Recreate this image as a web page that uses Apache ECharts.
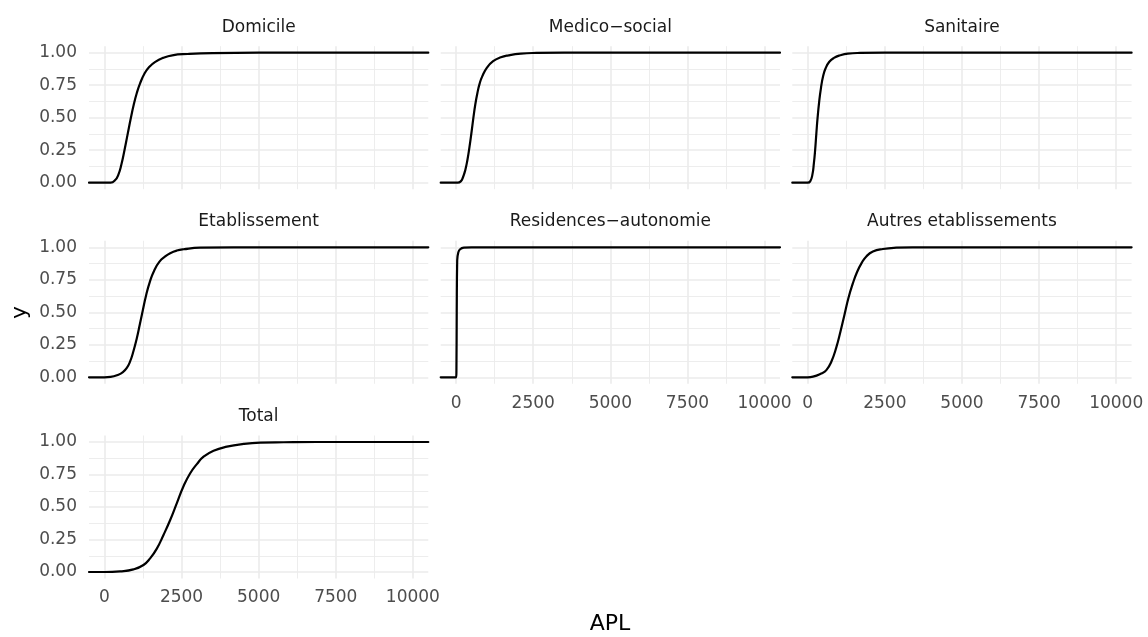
<!DOCTYPE html>
<html>
<head>
<meta charset="utf-8">
<script src="https://cdn.jsdelivr.net/npm/echarts@6/dist/echarts.min.js"></script>
<style>
html,body{margin:0;padding:0;background:#fff;}
#chart{width:1148px;height:637px;}
</style>
</head>
<body>
<div id="chart"></div>
<script>
// ---- facets ----
const facets = ['Domicile', 'Medico\u2212social', 'Sanitaire', 'Etablissement', 'Residences\u2212autonomie', 'Autres etablissements', 'Total'];

// ---- tick labels ----
const xTicks = [0, 2500, 5000, 7500, 10000];
const xMinorTicks = [1250, 3750, 6250, 8750];
const yTicks = [0, 0.25, 0.5, 0.75, 1];
const yMinorTicks = [0.125, 0.375, 0.625, 0.875];

// ---- series values (APL, cumulative share y) ----
const domicileX = [-500, 0, 200, 350, 450, 550, 650, 750, 850, 950, 1050, 1150, 1300, 1450, 1650, 1900, 2200, 2700, 3500, 5000, 10500];
const domicileY = [0, 0, 0, 0.02, 0.06, 0.14, 0.25, 0.37, 0.49, 0.60, 0.69, 0.76, 0.84, 0.89, 0.93, 0.96, 0.98, 0.99, 0.997, 1, 1];

const medicoX = [-500, 0, 50, 150, 220, 300, 370, 430, 500, 560, 620, 690, 760, 850, 1000, 1200, 1450, 1700, 2100, 2600, 3500, 10500];
const medicoY = [0, 0, 0, 0.01, 0.04, 0.10, 0.18, 0.27, 0.39, 0.50, 0.60, 0.69, 0.76, 0.82, 0.885, 0.935, 0.965, 0.98, 0.993, 0.998, 1, 1];

const sanitaireX = [-500, 0, 80, 150, 200, 240, 280, 320, 370, 430, 500, 580, 700, 850, 1050, 1300, 1700, 2500, 10500];
const sanitaireY = [0, 0, 0.01, 0.06, 0.15, 0.25, 0.38, 0.50, 0.62, 0.73, 0.82, 0.88, 0.93, 0.96, 0.98, 0.993, 0.998, 1, 1];

const etabX = [-500, 0, 200, 454, 600, 720, 830, 940, 1050, 1150, 1240, 1350, 1480, 1612, 1785, 1969, 2132, 2348, 2564, 3105, 4187, 10500];
const etabY = [0, 0, 0.003, 0.02, 0.04, 0.07, 0.12, 0.20, 0.30, 0.41, 0.51, 0.63, 0.74, 0.82, 0.89, 0.93, 0.955, 0.975, 0.985, 0.997, 1, 1];

const residX = [-500, 0, 10, 20, 35, 70, 130, 250, 500, 10500];
const residY = [0, 0, 0.05, 0.5, 0.9, 0.96, 0.985, 0.997, 1, 1];

const autresX = [-500, 0, 172, 442, 604, 765, 927, 1060, 1190, 1320, 1460, 1600, 1750, 1900, 2113, 2436, 2867, 3406, 10500];
const autresY = [0, 0, 0.005, 0.03, 0.055, 0.12, 0.23, 0.35, 0.48, 0.61, 0.72, 0.81, 0.88, 0.93, 0.967, 0.987, 0.997, 1, 1];

const totalX = [-500, 0, 509, 941, 1266, 1482, 1699, 1915, 2132, 2348, 2564, 2781, 2997, 3214, 3538, 3971, 4512, 5053, 5810, 6892, 10500];
const totalY = [0, 0, 0.005, 0.02, 0.054, 0.105, 0.18, 0.285, 0.40, 0.53, 0.66, 0.76, 0.83, 0.887, 0.933, 0.964, 0.985, 0.995, 0.998, 1, 1];

const seriesX = [domicileX, medicoX, sanitaireX, etabX, residX, autresX, totalX];
const seriesY = [domicileY, medicoY, sanitaireY, etabY, residY, autresY, totalY];

// ---- layout ----
const colLeft = [89, 440.7, 792.3];
const rowTop = [46.2, 240.8, 435.5];
const panelW = 339.3, panelH = 143;
const FONT = 'DejaVu Sans';
const gridColor = '#ebebeb';

const grids = [], xAxes = [], yAxes = [], series = [], graphics = [];
facets.forEach((name, i) => {
  const r = Math.floor(i / 3), c = i % 3;
  const left = colLeft[c], top = rowTop[r];
  grids.push({left: left, top: top, width: panelW, height: panelH, containLabel: false});
  const showX = (i === 4 || i === 5 || i === 6);
  const showY = (c === 0);
  xAxes.push({
    gridIndex: i, type: 'value', min: -500, max: 10500,
    axisLine: {show: false}, axisTick: {show: false, customValues: xTicks},
    axisLabel: {show: showX, customValues: xTicks, margin: 11, color: '#4d4d4d', fontSize: 17, fontFamily: FONT,
      formatter: v => String(v)},
    splitLine: {show: true, lineStyle: {color: gridColor, width: 1.6}}
  });
  xAxes.push({
    gridIndex: i, type: 'value', min: -500, max: 10500, position: 'bottom',
    axisLine: {show: false}, axisTick: {show: false, customValues: xMinorTicks},
    axisLabel: {show: false, customValues: xMinorTicks},
    splitLine: {show: true, lineStyle: {color: gridColor, width: 0.9}}
  });
  yAxes.push({
    gridIndex: i, type: 'value', min: -0.05, max: 1.05,
    axisLine: {show: false}, axisTick: {show: false, customValues: yTicks},
    axisLabel: {show: showY, customValues: yTicks, margin: 12, color: '#4d4d4d', fontSize: 17, fontFamily: FONT,
      formatter: v => Number(v).toFixed(2)},
    splitLine: {show: true, lineStyle: {color: gridColor, width: 1.6}}
  });
  yAxes.push({
    gridIndex: i, type: 'value', min: -0.05, max: 1.05, position: 'left',
    axisLine: {show: false}, axisTick: {show: false, customValues: yMinorTicks},
    axisLabel: {show: false, customValues: yMinorTicks},
    splitLine: {show: true, lineStyle: {color: gridColor, width: 0.9}}
  });
  series.push({
    type: 'line', name: name, xAxisIndex: 2 * i, yAxisIndex: 2 * i,
    data: seriesX[i].map((x, k) => [x, seriesY[i][k]]),
    showSymbol: false, symbol: 'none', smooth: 0.5,
    lineStyle: {color: '#000', width: 2.2, join: 'round', cap: 'round'}, z: 5, silent: true
  });
  graphics.push({
    type: 'text', x: left + panelW / 2, y: top - 19,
    style: {text: name, fontSize: 17, fontFamily: FONT, fill: '#1a1a1a', align: 'center', verticalAlign: 'middle'}
  });
});

graphics.push({
  type: 'text', x: 610, y: 624,
  style: {text: 'APL', fontSize: 22, fontFamily: FONT, fill: '#000', align: 'center', verticalAlign: 'middle'}
});
graphics.push({
  type: 'text', x: 20, y: 312.5, rotation: Math.PI / 2,
  style: {text: 'y', fontSize: 22, fontFamily: FONT, fill: '#000', align: 'center', verticalAlign: 'middle'}
});

const chart = echarts.init(document.getElementById('chart'), null, {renderer: 'canvas'});
chart.setOption({
  animation: false,
  backgroundColor: '#fff',
  grid: grids, xAxis: xAxes, yAxis: yAxes, series: series, graphic: graphics
});
</script>
</body>
</html>
